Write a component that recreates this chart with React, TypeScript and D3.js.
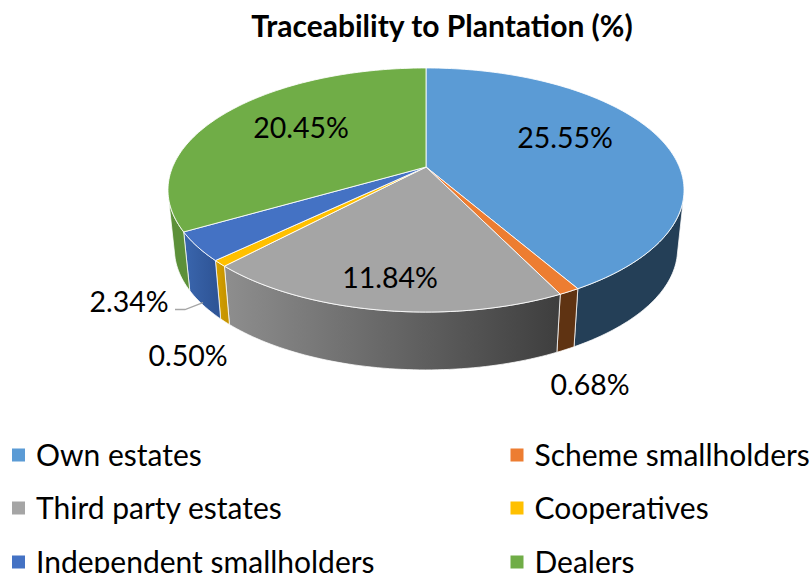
import { useEffect, useRef } from 'react';
import * as d3 from 'd3';

const categories = [
  'Own estates',
  'Scheme smallholders',
  'Third party estates',
  'Cooperatives',
  'Independent smallholders',
  'Dealers',
];
const shares = [25.55, 0.68, 11.84, 0.5, 2.34, 20.45];
const title = 'Traceability to Plantation (%)';

const topColors = ['#5B9BD5', '#ED7D31', '#A5A5A5', '#FFC000', '#4472C4', '#70AD47'];
const wallStart = ['#243F57', '#5F3312', '#8E8E8E', '#D9A300', '#3A66AE', '#5C9039'];
const wallEnd = ['#243F57', '#5F3312', '#3E3E3E', '#C79500', '#2F5597', '#5C9039'];

// label anchors, same order as the categories
const labelX = [565, 590, 390, 188, 129, 301];
const labelY = [138, 385, 278, 356, 302, 128];

// legend layout, two columns, three rows
const legendCols = [12, 510.5];
const legendRows = [455, 508, 562];

const WIDTH = 811;
const HEIGHT = 573;

// the pie is drawn in perspective, so a point on the rim goes through a small projective map
const apexX = 426;
const apexY = 167;
const scaleX = 253.4;
const scaleY = 117.7;
const tilt = 0.1885;

function rimTop(angle: number): [number, number] {
  const u = Math.sin(angle);
  const v = -Math.cos(angle);
  const w = 1 - tilt * v;
  return [apexX + (scaleX * u) / w, apexY + (scaleY * v) / w];
}

function rimBottom(angle: number): [number, number] {
  const [x, y] = rimTop(angle);
  return [apexX + 0.975 * (x - apexX), 0.99 * y + 61];
}

function arcSamples(start: number, end: number): number[] {
  const steps = Math.max(4, Math.ceil((end - start) / 0.02));
  return d3.range(steps + 1).map((i) => start + ((end - start) * i) / steps);
}

// a wall only shows where it faces the viewer
function facesViewer(angle: number): boolean {
  const p = rimTop(angle);
  const next = rimTop(angle + 0.001);
  const q = rimBottom(angle);
  return (next[0] - p[0]) * (q[1] - p[1]) - (next[1] - p[1]) * (q[0] - p[0]) < 0;
}

export default function App() {
  const svgRef = useRef<SVGSVGElement>(null);

  useEffect(() => {
    if (!svgRef.current) return;
    const svg = d3.select(svgRef.current);
    svg.selectAll('*').remove();

    const font = 'Lato, sans-serif';
    const slices = d3
      .pie<number>()
      .sort(null)
      .value((d) => d)(shares);
    const line = d3.line();

    const defs = svg.append('defs');
    slices.forEach((slice, i) => {
      const xs = arcSamples(slice.startAngle, slice.endAngle).map((a) => rimTop(a)[0]);
      const gradient = defs
        .append('linearGradient')
        .attr('id', `wall-${i}`)
        .attr('gradientUnits', 'userSpaceOnUse')
        .attr('x1', d3.min(xs) ?? 0)
        .attr('x2', d3.max(xs) ?? 0)
        .attr('y1', 0)
        .attr('y2', 0);
      gradient.append('stop').attr('offset', '0%').attr('stop-color', wallStart[i]);
      gradient.append('stop').attr('offset', '100%').attr('stop-color', wallEnd[i]);
    });

    svg
      .append('g')
      .selectAll('path')
      .data(slices)
      .join('path')
      .attr('d', (slice) => {
        const angles = arcSamples(slice.startAngle, slice.endAngle).filter(facesViewer);
        return (
          line([...angles.map(rimTop), ...[...angles].reverse().map(rimBottom)]) + 'Z'
        );
      })
      .attr('fill', (_, i) => `url(#wall-${i})`)
      .attr('stroke', '#fff')
      .attr('stroke-opacity', 0.75)
      .attr('stroke-width', 1);

    svg
      .append('g')
      .selectAll('path')
      .data(slices)
      .join('path')
      .attr('d', (slice) => {
        const angles = arcSamples(slice.startAngle, slice.endAngle);
        return line([[apexX, apexY], ...angles.map(rimTop)]) + 'Z';
      })
      .attr('fill', (_, i) => topColors[i])
      .attr('stroke', '#fff')
      .attr('stroke-opacity', 0.85)
      .attr('stroke-width', 1);

    svg
      .append('path')
      .attr('d', 'M175,309.5 L185,309.5 L203,302.6')
      .attr('fill', 'none')
      .attr('stroke', '#A6A6A6')
      .attr('stroke-width', 1.3);

    svg
      .append('g')
      .selectAll('text')
      .data(shares)
      .join('text')
      .attr('x', (_, i) => labelX[i])
      .attr('y', (_, i) => labelY[i])
      .attr('dy', '0.35em')
      .attr('text-anchor', 'middle')
      .attr('font-family', font)
      .attr('font-size', 28.5)
      .attr('fill', '#000')
      .text((d) => `${d.toFixed(2)}%`);

    svg
      .append('text')
      .attr('x', 442)
      .attr('y', 26)
      .attr('dy', '0.35em')
      .attr('text-anchor', 'middle')
      .attr('font-family', font)
      .attr('font-weight', 700)
      .attr('font-size', 30)
      .attr('fill', '#000')
      .text(title);

    const legend = svg
      .append('g')
      .selectAll('g')
      .data(categories)
      .join('g')
      .attr(
        'transform',
        (_, i) => `translate(${legendCols[i % 2]},${legendRows[Math.floor(i / 2)]})`
      );

    legend
      .append('rect')
      .attr('x', 0)
      .attr('y', -6.5)
      .attr('width', 13)
      .attr('height', 13)
      .attr('fill', (_, i) => topColors[i]);

    legend
      .append('text')
      .attr('x', 24)
      .attr('dy', '0.35em')
      .attr('font-family', font)
      .attr('font-size', 30)
      .attr('fill', '#000')
      .text((d) => d);
  }, []);

  return (
    <svg
      ref={svgRef}
      width={WIDTH}
      height={HEIGHT}
      viewBox={`0 0 ${WIDTH} ${HEIGHT}`}
      style={{ position: 'absolute', left: 0, top: 0, background: '#fff' }}
    />
  );
}
